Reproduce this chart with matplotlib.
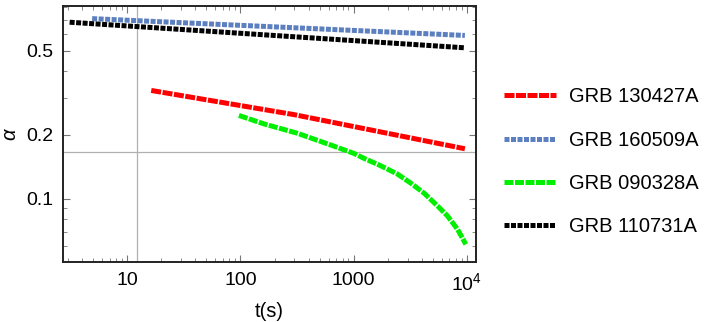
import matplotlib
matplotlib.use('Agg')
import matplotlib.pyplot as plt
import numpy as np
from matplotlib.ticker import FixedLocator, FixedFormatter, NullFormatter

plt.rcParams['font.family'] = ['Liberation Sans', 'DejaVu Sans']
plt.rcParams['mathtext.fontset'] = 'custom'
plt.rcParams['mathtext.rm'] = 'Liberation Sans'
plt.rcParams['mathtext.it'] = 'Liberation Sans:italic'

# (t in s, alpha)
t_130427 = [16.3, 300, 9600]
a_130427 = [0.324, 0.249, 0.172]

t_160509 = [4.9, 9600]
a_160509 = [0.707, 0.589]

t_090328 = [97, 161, 317, 625, 1000, 1234, 1733, 2434, 3192, 4188, 5495,
            6740, 8270, 9790]
a_090328 = [0.247, 0.2254, 0.2037, 0.1793, 0.1637, 0.155, 0.143, 0.1307,
            0.1184, 0.1062, 0.0925, 0.0829, 0.0717, 0.0609]

t_110731 = [3.1, 9600]
a_110731 = [0.68, 0.515]

labels = ['GRB 130427A', 'GRB 160509A', 'GRB 090328A', 'GRB 110731A']
x_ticks = [10, 100, 1000, 10000]
x_ticklabels = ['10', '100', '1000', '$10^4$']
y_ticks = [0.1, 0.2, 0.5]
y_ticklabels = ['0.1', '0.2', '0.5']

fig = plt.figure(figsize=(7.06, 3.22), dpi=100)
ax = fig.add_axes([0.089, 0.186, 0.585, 0.795])

lw = 3.6
ax.plot(t_130427, a_130427, color='#ff0000', lw=lw, dashes=(2.0, 0.3),
        dash_capstyle='butt', label=labels[0])
ax.plot(t_160509, a_160509, color='#5b7fbf', lw=lw, dashes=(1.0, 0.3),
        dash_capstyle='butt', label=labels[1])
ax.plot(t_090328, a_090328, color='#00ee00', lw=lw, dashes=(1.8, 0.3),
        dash_capstyle='butt', label=labels[2])
ax.plot(t_110731, a_110731, color='black', lw=lw, dashes=(1.0, 0.3),
        dash_capstyle='butt', label=labels[3])

ax.set_xscale('log')
ax.set_yscale('log')
ax.set_xlim(2.7, 12000)
ax.set_ylim(0.0502, 0.81)

ax.axvline(12.2, color='#b0b0b0', lw=0.9, zorder=0)
ax.axhline(1 / 6, color='#b0b0b0', lw=0.9, zorder=0)

ax.xaxis.set_major_locator(FixedLocator(x_ticks))
ax.xaxis.set_major_formatter(FixedFormatter(x_ticklabels))
ax.yaxis.set_major_locator(FixedLocator(y_ticks))
ax.yaxis.set_major_formatter(FixedFormatter(y_ticklabels))
y_minor = [0.06, 0.07, 0.08, 0.09, 0.3, 0.4, 0.6, 0.7, 0.8]
ax.yaxis.set_minor_locator(FixedLocator(y_minor))
ax.yaxis.set_minor_formatter(NullFormatter())
x_minor = [m * d for d in [1, 10, 100, 1000] for m in range(2, 10)] + [20000]
ax.xaxis.set_minor_locator(FixedLocator(x_minor))
ax.xaxis.set_minor_formatter(NullFormatter())

ax.tick_params(which='both', direction='in', top=True, right=True,
               labelsize=14, color='#777777')
ax.tick_params(which='major', length=5, width=0.8, pad=7)
ax.tick_params(which='minor', length=3, width=0.6)
for s in ax.spines.values():
    s.set_linewidth(1.4)
    s.set_color('#222222')

ax.set_xlabel('t(s)', fontsize=14.5, labelpad=6)
ax.set_ylabel(r'$\alpha$', fontsize=14.5, labelpad=4)

fig.legend(loc='center left', bbox_to_anchor=(0.714, 0.498), frameon=False,
           fontsize=14.5, handlelength=2.6, handletextpad=0.62,
           labelspacing=1.2, borderpad=0, borderaxespad=0)

fig.savefig('out.png', dpi=100)
